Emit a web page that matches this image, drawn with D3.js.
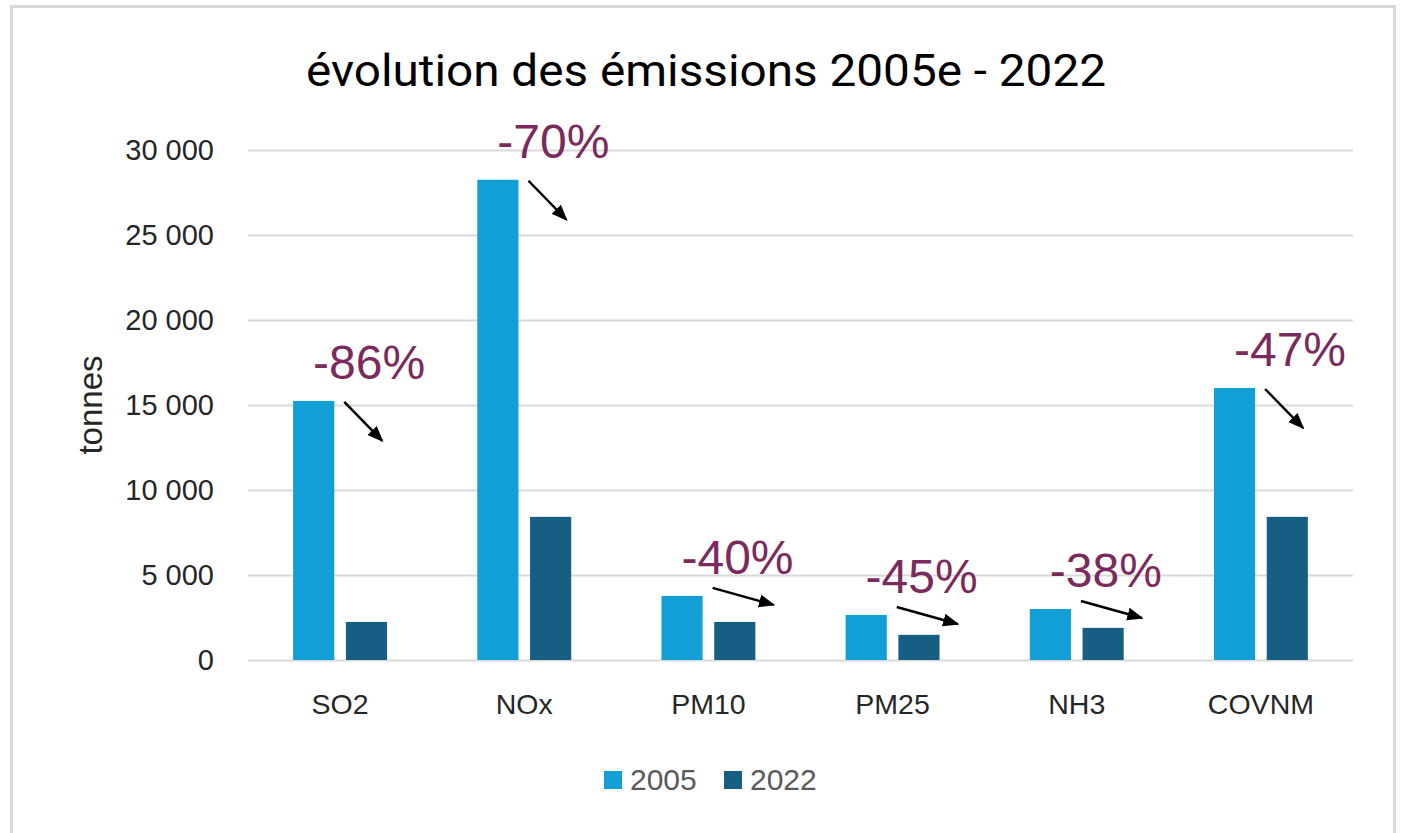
<!DOCTYPE html>
<html>
<head>
<meta charset="utf-8">
<script src="https://cdn.jsdelivr.net/npm/d3@7"></script>
<style>
  body { margin: 0; background: #fff; }
  svg { display: block; }
</style>
</head>
<body>
<svg></svg>
<script>
const width = 1402;
const height = 833;

// data
const categories = ['SO2', 'NOx', 'PM10', 'PM25', 'NH3', 'COVNM'];
const series = ['2005', '2022'];
const values2005 = [15240, 28250, 3770, 2650, 3000, 16000];
const values2022 = [2240, 8420, 2240, 1480, 1890, 8420];
const changeLabels = ['-86%', '-70%', '-40%', '-45%', '-38%', '-47%'];
const yTicks = [0, 5000, 10000, 15000, 20000, 25000, 30000];

const colors = { '2005': '#129fd6', '2022': '#175f82' };
const plum = '#7a2a5c';
const font = '"Liberation Sans", Arial, sans-serif';

const svg = d3.select('svg').attr('width', width).attr('height', height);

svg.append('defs').append('marker')
  .attr('id', 'arrowhead')
  .attr('viewBox', '0 0 10 10')
  .attr('refX', 9).attr('refY', 5)
  .attr('markerWidth', 6.5).attr('markerHeight', 6.5)
  .attr('orient', 'auto')
  .append('path').attr('d', 'M0,1 L10,5 L0,9 z').attr('fill', '#000');

// chart frame
svg.append('rect')
  .attr('x', 11.5).attr('y', 6.5)
  .attr('width', 1383).attr('height', 860)
  .attr('fill', '#fff').attr('stroke', '#d9d9d9').attr('stroke-width', 3);

const plot = { left: 248, right: 1353, top: 150, bottom: 660 };

const x0 = d3.scaleBand().domain(categories)
  .range([plot.left, plot.right])
  .paddingInner(0.49).paddingOuter(0.245);
const x1 = d3.scaleBand().domain(series)
  .range([0, x0.bandwidth()])
  .paddingInner(0.22);
const y = d3.scaleLinear().domain([0, 30000]).range([plot.bottom, plot.top]);

const fmt = v => d3.format(',')(v).replace(/,/g, ' ');

// gridlines + y labels
const yAxis = d3.axisLeft(y).tickValues(yTicks)
  .tickSize(-(plot.right - plot.left)).tickPadding(34).tickFormat(fmt);
const gy = svg.append('g').attr('transform', `translate(${plot.left},0)`).call(yAxis);
gy.select('.domain').remove();
gy.selectAll('.tick line').attr('stroke', '#d9d9d9').attr('stroke-width', 2);
gy.selectAll('.tick text')
  .attr('fill', '#262626')
  .style('font-family', font)
  .style('font-size', '29px');

// x labels
const xAxis = d3.axisBottom(x0).tickSize(0).tickPadding(34);
const gx = svg.append('g').attr('transform', `translate(0,${plot.bottom})`).call(xAxis);
gx.select('.domain').remove();
gx.selectAll('.tick text')
  .attr('fill', '#262626')
  .style('font-family', font)
  .style('font-size', '28.5px');

// bars
const rows = categories.map((c, i) => ({ cat: c, '2005': values2005[i], '2022': values2022[i], label: changeLabels[i] }));

const groups = svg.append('g').selectAll('g.cat')
  .data(rows).enter().append('g')
  .attr('class', 'cat')
  .attr('transform', d => `translate(${x0(d.cat)},0)`);

groups.selectAll('rect')
  .data(d => series.map(s => ({ s, v: d[s] })))
  .enter().append('rect')
  .attr('x', d => x1(d.s))
  .attr('y', d => y(d.v))
  .attr('width', x1.bandwidth())
  .attr('height', d => y(0) - y(d.v))
  .attr('fill', d => colors[d.s]);

// change annotations: label above the 2005 bar, arrow pointing down to the right
groups.append('text')
  .attr('x', x1('2005') + 20)
  .attr('y', d => y(d['2005']) - 22)
  .attr('fill', plum)
  .style('font-family', font)
  .style('font-size', '48px')
  .text(d => d.label);

groups.append('line')
  .each(function(d) {
    const steep = d['2005'] > 10000;
    const sx = x1('2005') + x1.bandwidth() + 10;
    const sy = y(d['2005']) + (steep ? 1 : -8);
    d3.select(this)
      .attr('x1', sx).attr('y1', sy)
      .attr('x2', sx + (steep ? 38 : 61))
      .attr('y2', sy + (steep ? 39 : 17));
  })
  .attr('stroke', '#000').attr('stroke-width', 2.5)
  .attr('marker-end', 'url(#arrowhead)');

// title
svg.append('text')
  .attr('x', 706).attr('y', 86)
  .attr('text-anchor', 'middle')
  .attr('fill', '#000')
  .attr('textLength', 800)
  .attr('lengthAdjust', 'spacingAndGlyphs')
  .style('font-family', 'Roboto, sans-serif')
  .style('font-size', '45px')
  .text('évolution des émissions 2005e - 2022');

// y axis title
svg.append('text')
  .attr('transform', 'translate(102,405) rotate(-90)')
  .attr('text-anchor', 'middle')
  .attr('fill', '#262626')
  .style('font-family', font)
  .style('font-size', '33px')
  .text('tonnes');

// legend
const legend = svg.append('g').attr('transform', 'translate(604,771)');
const li = legend.selectAll('g').data(series).enter().append('g')
  .attr('transform', (d, i) => `translate(${i * 120},0)`);
li.append('rect').attr('width', 18).attr('height', 18).attr('fill', d => colors[d]);
li.append('text')
  .attr('x', 26).attr('y', 19)
  .attr('fill', '#595959')
  .style('font-family', font)
  .style('font-size', '30px')
  .text(d => d);
</script>
</body>
</html>
